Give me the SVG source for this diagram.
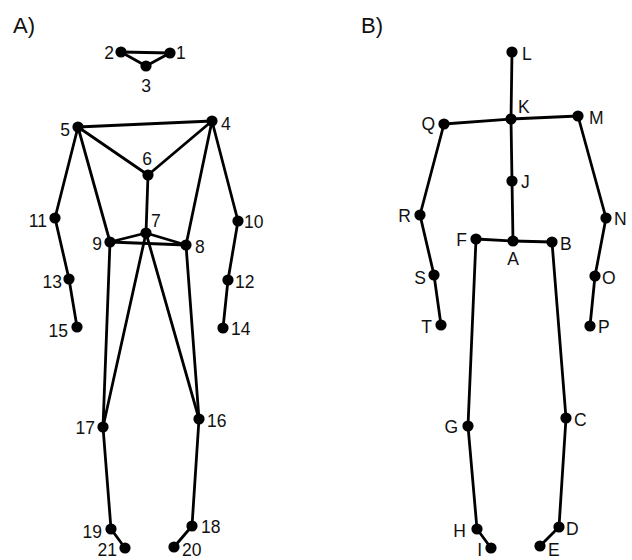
<svg xmlns="http://www.w3.org/2000/svg" width="632" height="560" viewBox="0 0 632 560">
<style>
.e line{stroke:#000;stroke-width:2.8;stroke-linecap:round}
.n circle{fill:#000}
text{font-family:"Liberation Sans",Arial,sans-serif;font-size:17.5px;fill:#111}
.t{font-size:22px}
.m{text-anchor:middle}
.r{text-anchor:end}
</style>
<rect width="632" height="560" fill="#fff"/>
<text class="t" x="13" y="33">A)</text>
<text class="t" x="361" y="33">B)</text>
<g id="connectors-A" class="e">
<line x1="121" y1="52" x2="170" y2="53"/>
<line x1="121" y1="52" x2="146" y2="66"/>
<line x1="146" y1="66" x2="170" y2="53"/>
<line x1="78" y1="127" x2="212" y2="121"/>
<line x1="78" y1="127" x2="148" y2="175"/>
<line x1="148" y1="175" x2="212" y2="121"/>
<line x1="148" y1="175" x2="146" y2="233"/>
<line x1="78" y1="127" x2="55" y2="218"/>
<line x1="55" y1="218" x2="69" y2="279"/>
<line x1="69" y1="279" x2="77" y2="327"/>
<line x1="212" y1="121" x2="238" y2="221"/>
<line x1="238" y1="221" x2="228" y2="280"/>
<line x1="228" y1="280" x2="223" y2="328"/>
<line x1="78" y1="127" x2="110" y2="242"/>
<line x1="212" y1="121" x2="186" y2="245"/>
<line x1="146" y1="233" x2="110" y2="242"/>
<line x1="146" y1="233" x2="186" y2="245"/>
<line x1="110" y1="242" x2="186" y2="245"/>
<line x1="110" y1="242" x2="103" y2="427"/>
<line x1="186" y1="245" x2="199" y2="419"/>
<line x1="146" y1="233" x2="103" y2="427"/>
<line x1="146" y1="233" x2="199" y2="419"/>
<line x1="103" y1="427" x2="111" y2="529"/>
<line x1="111" y1="529" x2="125" y2="548"/>
<line x1="199" y1="419" x2="192" y2="526"/>
<line x1="192" y1="526" x2="174" y2="547"/>
</g>
<g id="connectors-B" class="e">
<line x1="512" y1="52" x2="511" y2="119"/>
<line x1="444" y1="124" x2="511" y2="119"/>
<line x1="511" y1="119" x2="578" y2="116"/>
<line x1="511" y1="119" x2="512" y2="181"/>
<line x1="512" y1="181" x2="513" y2="241"/>
<line x1="476" y1="239" x2="513" y2="241"/>
<line x1="513" y1="241" x2="552" y2="242"/>
<line x1="444" y1="124" x2="420" y2="215"/>
<line x1="420" y1="215" x2="434" y2="275"/>
<line x1="434" y1="275" x2="441" y2="325"/>
<line x1="578" y1="116" x2="606" y2="218"/>
<line x1="606" y1="218" x2="595" y2="276"/>
<line x1="595" y1="276" x2="590" y2="326"/>
<line x1="476" y1="239" x2="468" y2="426"/>
<line x1="468" y1="426" x2="477" y2="529"/>
<line x1="477" y1="529" x2="491" y2="548"/>
<line x1="552" y1="242" x2="566" y2="418"/>
<line x1="566" y1="418" x2="559" y2="527"/>
<line x1="559" y1="527" x2="540" y2="546"/>
</g>
<g id="nodes-A" class="n">
<g id="n1"><circle cx="170" cy="53" r="5.6"/><text x="176" y="59">1</text></g>
<g id="n2"><circle cx="121" cy="52" r="5.6"/><text class="r" x="114" y="59">2</text></g>
<g id="n3"><circle cx="146" cy="66" r="5.6"/><text class="m" x="146" y="92">3</text></g>
<g id="n4"><circle cx="212" cy="121" r="5.6"/><text x="221" y="130">4</text></g>
<g id="n5"><circle cx="78" cy="127" r="5.6"/><text class="r" x="70" y="136">5</text></g>
<g id="n6"><circle cx="148" cy="175" r="5.6"/><text class="m" x="147" y="165">6</text></g>
<g id="n7"><circle cx="146" cy="233" r="5.6"/><text x="151" y="227">7</text></g>
<g id="n8"><circle cx="186" cy="245" r="5.6"/><text x="195" y="253">8</text></g>
<g id="n9"><circle cx="110" cy="242" r="5.6"/><text class="r" x="102" y="250">9</text></g>
<g id="n10"><circle cx="238" cy="221" r="5.6"/><text x="244" y="228">10</text></g>
<g id="n11"><circle cx="55" cy="218" r="5.6"/><text class="r" x="47" y="227">11</text></g>
<g id="n12"><circle cx="228" cy="280" r="5.6"/><text x="235" y="288">12</text></g>
<g id="n13"><circle cx="69" cy="279" r="5.6"/><text class="r" x="62" y="288">13</text></g>
<g id="n14"><circle cx="223" cy="328" r="5.6"/><text x="231" y="335">14</text></g>
<g id="n15"><circle cx="77" cy="327" r="5.6"/><text class="r" x="68" y="337">15</text></g>
<g id="n16"><circle cx="199" cy="419" r="5.6"/><text x="207" y="427">16</text></g>
<g id="n17"><circle cx="103" cy="427" r="5.6"/><text class="r" x="95" y="434">17</text></g>
<g id="n18"><circle cx="192" cy="526" r="5.6"/><text x="201" y="533">18</text></g>
<g id="n19"><circle cx="111" cy="529" r="5.6"/><text class="r" x="102" y="538">19</text></g>
<g id="n20"><circle cx="174" cy="547" r="5.6"/><text x="182" y="556">20</text></g>
<g id="n21"><circle cx="125" cy="548" r="5.6"/><text class="r" x="117" y="556">21</text></g>
</g>
<g id="nodes-B" class="n">
<g id="nL"><circle cx="512" cy="52" r="5.6"/><text x="522" y="60">L</text></g>
<g id="nK"><circle cx="511" cy="119" r="5.6"/><text x="518" y="113">K</text></g>
<g id="nQ"><circle cx="444" cy="124" r="5.6"/><text class="r" x="435" y="130">Q</text></g>
<g id="nM"><circle cx="578" cy="116" r="5.6"/><text x="589" y="124">M</text></g>
<g id="nJ"><circle cx="512" cy="181" r="5.6"/><text x="521" y="188">J</text></g>
<g id="nR"><circle cx="420" cy="215" r="5.6"/><text class="r" x="411" y="222">R</text></g>
<g id="nN"><circle cx="606" cy="218" r="5.6"/><text x="614" y="225">N</text></g>
<g id="nF"><circle cx="476" cy="239" r="5.6"/><text class="r" x="467" y="246">F</text></g>
<g id="nA"><circle cx="513" cy="241" r="5.6"/><text class="m" x="513" y="265">A</text></g>
<g id="nB"><circle cx="552" cy="242" r="5.6"/><text x="560" y="250">B</text></g>
<g id="nS"><circle cx="434" cy="275" r="5.6"/><text class="r" x="426" y="284">S</text></g>
<g id="nO"><circle cx="595" cy="276" r="5.6"/><text x="602" y="284">O</text></g>
<g id="nT"><circle cx="441" cy="325" r="5.6"/><text class="r" x="432" y="333">T</text></g>
<g id="nP"><circle cx="590" cy="326" r="5.6"/><text x="598" y="333">P</text></g>
<g id="nG"><circle cx="468" cy="426" r="5.6"/><text class="r" x="458" y="433">G</text></g>
<g id="nC"><circle cx="566" cy="418" r="5.6"/><text x="574" y="426">C</text></g>
<g id="nH"><circle cx="477" cy="529" r="5.6"/><text class="r" x="466" y="537">H</text></g>
<g id="nD"><circle cx="559" cy="527" r="5.6"/><text x="566" y="535">D</text></g>
<g id="nI"><circle cx="491" cy="548" r="5.6"/><text class="r" x="482" y="556">I</text></g>
<g id="nE"><circle cx="540" cy="546" r="5.6"/><text x="548" y="556">E</text></g>
</g>
</svg>
